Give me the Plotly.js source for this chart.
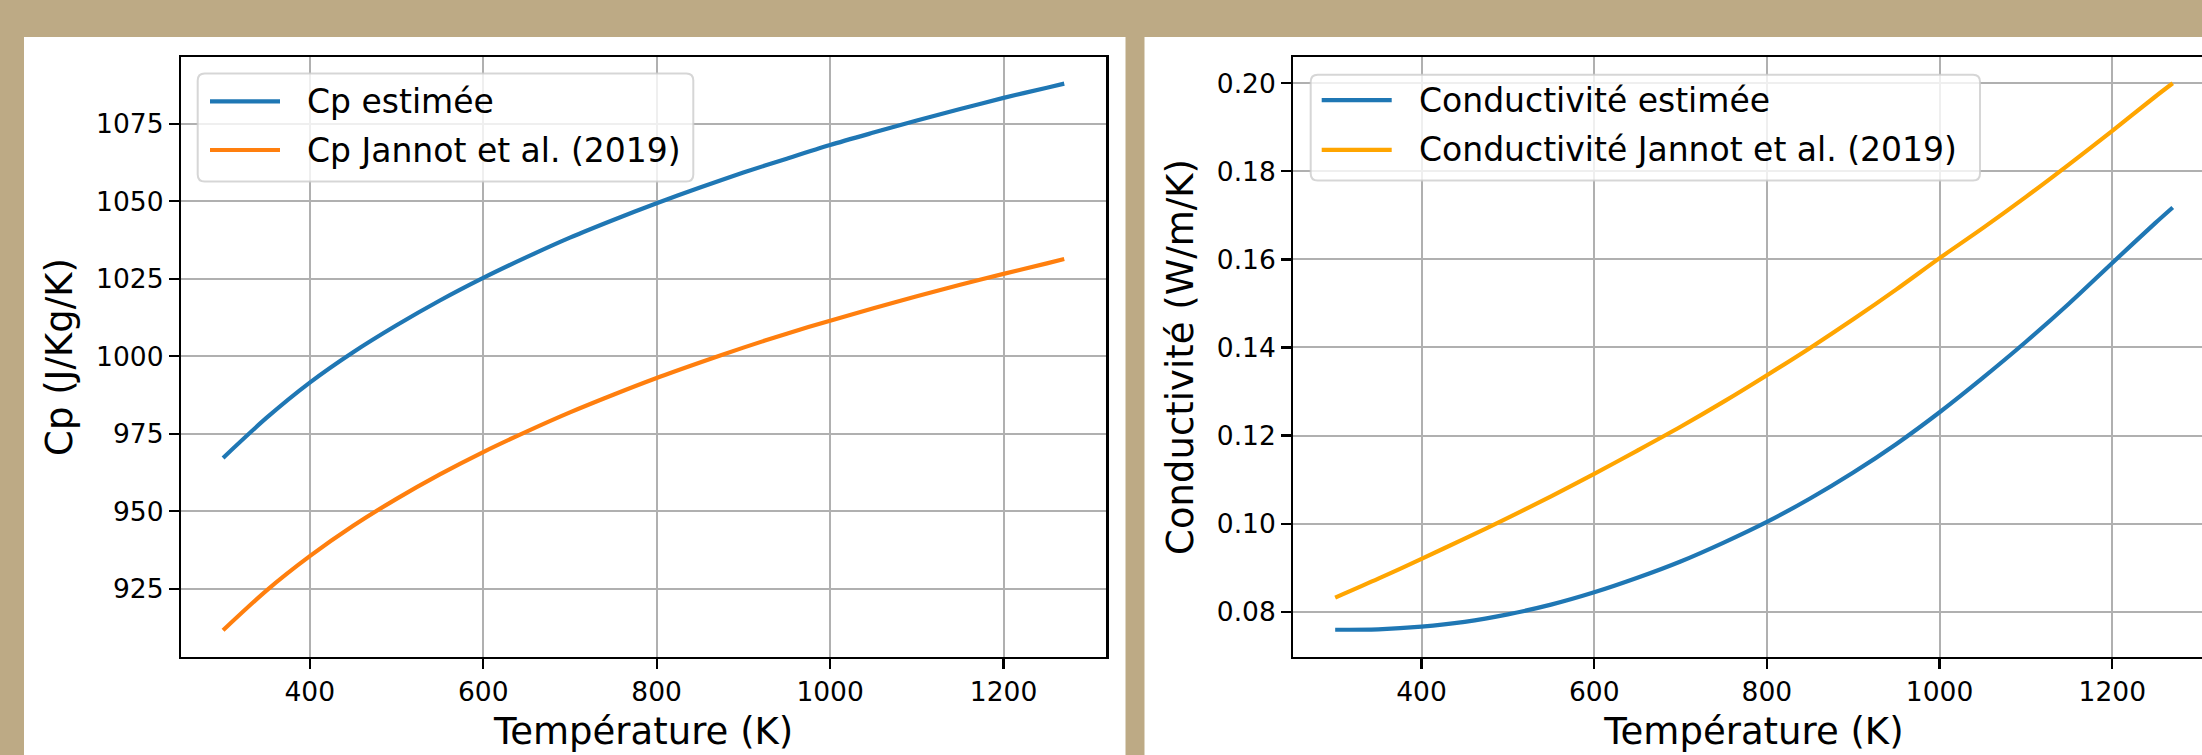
<!DOCTYPE html>
<html>
<head>
<meta charset="utf-8">
<script src="https://cdn.plot.ly/plotly-3.0.1.min.js"></script>
<style>
  html, body { margin: 0; padding: 0; overflow: hidden; background: #bdaa85; }
  #chart { width: 2240px; height: 755px; }
</style>
</head>
<body>
<div id="chart"></div>
<script>
// ---------------- data ----------------
const temperature = [300, 350, 400, 450, 500, 550, 600, 650, 700, 750, 800,
                     850, 900, 950, 1000, 1050, 1100, 1150, 1200, 1250, 1270];

const cpEstimee = [967.2, 980.1, 991.5, 1001.3, 1010.0, 1018.0, 1025.3, 1032.0, 1038.3, 1044.0, 1049.4,
                   1054.5, 1059.3, 1063.8, 1068.2, 1072.2, 1076.1, 1079.8, 1083.4, 1086.7, 1088.0];

const cpJannot = [911.6, 924.4, 935.5, 945.3, 954.0, 961.9, 969.1, 975.7, 981.9, 987.6, 993.0,
                  998.0, 1002.8, 1007.3, 1011.5, 1015.5, 1019.4, 1023.1, 1026.6, 1030.0, 1031.4];

const condEstimee = [0.0759, 0.0760, 0.0766, 0.0777, 0.0794, 0.0816, 0.0844, 0.0877, 0.0914, 0.0957, 0.1004,
                     0.1057, 0.1116, 0.1181, 0.1253, 0.1331, 0.1413, 0.1500, 0.1592, 0.1683, 0.1718];

const condJannot = [0.0832, 0.0875, 0.0920, 0.0966, 0.1013, 0.1062, 0.1113, 0.1166, 0.1220, 0.1277, 0.1337,
                    0.1399, 0.1464, 0.1532, 0.1603, 0.1671, 0.1742, 0.1816, 0.1892, 0.1970, 0.2000];

const xTicks = [400, 600, 800, 1000, 1200];
const cpTicks = [925, 950, 975, 1000, 1025, 1050, 1075];
const condTicks = [0.08, 0.10, 0.12, 0.14, 0.16, 0.18, 0.20];

const labelCpEst = 'Cp estimée';
const labelCpJan = 'Cp Jannot et al. (2019)';
const labelCondEst = 'Conductivité estimée';
const labelCondJan = 'Conductivité Jannot et al. (2019)';
const xTitle = 'Température (K)';
const yTitleCp = 'Cp (J/Kg/K)';
const yTitleCond = 'Conductivité (W/m/K)';

// ---------------- layout helpers ----------------
const W = 2240, H = 755;
const px = v => v / W;
const py = v => 1 - v / H;
const FONT = 'DejaVu Sans, sans-serif';
const BLUE = '#1f77b4', ORANGE = '#ff7f0e', ORANGE2 = '#ffa500';
const LW = 4.2;

function roundRect(x0, y0, x1, y1, r) {
  const rx = r / W, ry = r / H;
  const X0 = px(x0), X1 = px(x1), Y0 = py(y0), Y1 = py(y1);
  return 'M' + (X0 + rx) + ',' + Y0 +
    ' L' + (X1 - rx) + ',' + Y0 +
    ' Q' + X1 + ',' + Y0 + ' ' + X1 + ',' + (Y0 - ry) +
    ' L' + X1 + ',' + (Y1 + ry) +
    ' Q' + X1 + ',' + Y1 + ' ' + (X1 - rx) + ',' + Y1 +
    ' L' + (X0 + rx) + ',' + Y1 +
    ' Q' + X0 + ',' + Y1 + ' ' + X0 + ',' + (Y1 + ry) +
    ' L' + X0 + ',' + (Y0 - ry) +
    ' Q' + X0 + ',' + Y0 + ' ' + (X0 + rx) + ',' + Y0 + ' Z';
}

const traces = [
  {x: temperature, y: cpEstimee, xaxis: 'x', yaxis: 'y', mode: 'lines', name: labelCpEst,
   line: {color: BLUE, width: LW, shape: 'spline', smoothing: 0.8}, showlegend: false},
  {x: temperature, y: cpJannot, xaxis: 'x', yaxis: 'y', mode: 'lines', name: labelCpJan,
   line: {color: ORANGE, width: LW, shape: 'spline', smoothing: 0.8}, showlegend: false},
  {x: temperature, y: condEstimee, xaxis: 'x2', yaxis: 'y2', mode: 'lines', name: labelCondEst,
   line: {color: BLUE, width: LW, shape: 'spline', smoothing: 0.8}, showlegend: false},
  {x: temperature, y: condJannot, xaxis: 'x2', yaxis: 'y2', mode: 'lines', name: labelCondJan,
   line: {color: ORANGE2, width: LW, shape: 'spline', smoothing: 0.8}, showlegend: false}
];

function axisCommon() {
  return {
    ticks: 'outside', ticklen: 10, tickwidth: 2.2, tickcolor: '#000',
    showline: true, mirror: true, linecolor: '#000', linewidth: 2.2,
    showgrid: true, gridcolor: '#b0b0b0', gridwidth: 2,
    zeroline: false, fixedrange: true,
    tickfont: {family: FONT, size: 26.5, color: '#000'}
  };
}

const yDom = [(H - 657) / H, (H - 57) / H];

const layout = {
  width: W, height: H,
  margin: {l: 0, r: 0, t: 0, b: 0},
  paper_bgcolor: '#bdaa85',
  plot_bgcolor: '#ffffff',
  showlegend: false,
  font: {family: FONT, color: '#000'},
  xaxis: Object.assign(axisCommon(), {
    domain: [px(181), px(1106.3)], range: [251.5, 1318.5], anchor: 'y',
    tickvals: xTicks,
    title: {text: xTitle, font: {family: FONT, size: 37, color: '#000'}, standoff: 12}
  }),
  yaxis: Object.assign(axisCommon(), {
    domain: yDom, range: [902.95, 1096.6], anchor: 'x',
    tickvals: cpTicks,
    title: {text: yTitleCp, font: {family: FONT, size: 37, color: '#000'}, standoff: 12}
  }),
  xaxis2: Object.assign(axisCommon(), {
    domain: [px(1293.3), px(2214.6)], range: [251.5, 1318.5], anchor: 'y2',
    tickvals: xTicks,
    title: {text: xTitle, font: {family: FONT, size: 37, color: '#000'}, standoff: 12}
  }),
  yaxis2: Object.assign(axisCommon(), {
    domain: yDom, range: [0.06971, 0.20597], anchor: 'x2',
    tickvals: condTicks, tickformat: '.2f',
    title: {text: yTitleCond, font: {family: FONT, size: 37, color: '#000'}, standoff: 12}
  }),
  shapes: [
    {type: 'rect', xref: 'paper', yref: 'paper', layer: 'below',
     x0: px(24), x1: px(1125.5), y0: 0, y1: py(37), fillcolor: '#ffffff', line: {width: 0}},
    {type: 'rect', xref: 'paper', yref: 'paper', layer: 'below',
     x0: px(1144.5), x1: 1, y0: 0, y1: py(37), fillcolor: '#ffffff', line: {width: 0}},
    {type: 'path', xref: 'paper', yref: 'paper', layer: 'above',
     path: roundRect(197.7, 73.6, 693.3, 181.6, 7),
     fillcolor: 'rgba(255,255,255,0.8)', line: {color: 'rgba(204,204,204,0.8)', width: 2}},
    {type: 'path', xref: 'paper', yref: 'paper', layer: 'above',
     path: roundRect(1310.7, 74.8, 1980, 180.4, 7),
     fillcolor: 'rgba(255,255,255,0.8)', line: {color: 'rgba(204,204,204,0.8)', width: 2}},
    {type: 'line', xref: 'paper', yref: 'paper', layer: 'above',
     x0: px(210), x1: px(280), y0: py(101.3), y1: py(101.3), line: {color: BLUE, width: LW}},
    {type: 'line', xref: 'paper', yref: 'paper', layer: 'above',
     x0: px(210), x1: px(280), y0: py(150), y1: py(150), line: {color: ORANGE, width: LW}},
    {type: 'line', xref: 'paper', yref: 'paper', layer: 'above',
     x0: px(1321.7), x1: px(1391.7), y0: py(100.1), y1: py(100.1), line: {color: BLUE, width: LW}},
    {type: 'line', xref: 'paper', yref: 'paper', layer: 'above',
     x0: px(1321.7), x1: px(1391.7), y0: py(149.9), y1: py(149.9), line: {color: ORANGE2, width: LW}}
  ],
  annotations: [
    {text: labelCpEst, xref: 'paper', yref: 'paper', x: px(305), y: py(101.3),
     xanchor: 'left', yanchor: 'middle', showarrow: false, font: {family: FONT, size: 33, color: '#000'}},
    {text: labelCpJan, xref: 'paper', yref: 'paper', x: px(305), y: py(150),
     xanchor: 'left', yanchor: 'middle', showarrow: false, font: {family: FONT, size: 33, color: '#000'}},
    {text: labelCondEst, xref: 'paper', yref: 'paper', x: px(1416.7), y: py(100.1),
     xanchor: 'left', yanchor: 'middle', showarrow: false, font: {family: FONT, size: 33, color: '#000'}},
    {text: labelCondJan, xref: 'paper', yref: 'paper', x: px(1416.7), y: py(149.9),
     xanchor: 'left', yanchor: 'middle', showarrow: false, font: {family: FONT, size: 33, color: '#000'}}
  ]
};

Plotly.newPlot('chart', traces, layout, {displayModeBar: false, staticPlot: true});
</script>
</body>
</html>
